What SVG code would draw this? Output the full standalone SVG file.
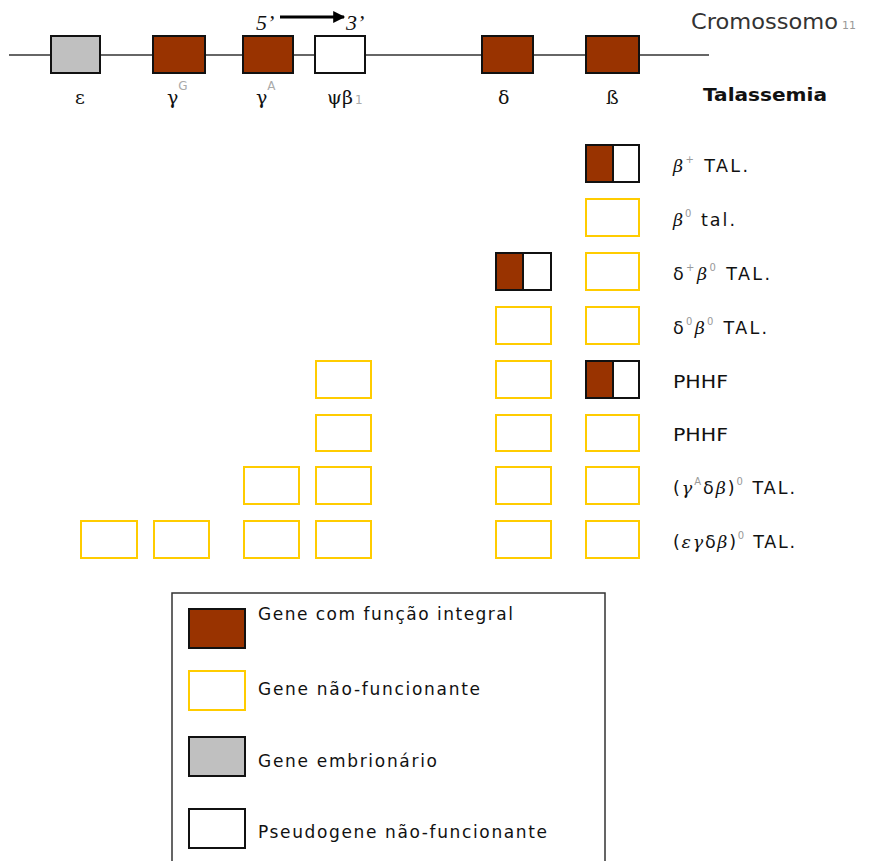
<svg xmlns="http://www.w3.org/2000/svg" width="872" height="861" viewBox="0 0 872 861">
<defs>
<style>
.chr{stroke:#333;stroke-width:1.5;fill:none}
.g{stroke:#111;stroke-width:2}
.br{fill:#993300}
.gy{fill:#c0c0c0}
.wh{fill:#fff}
.nf{fill:#fff;stroke:#ffcc00;stroke-width:2}
.lbl{font-family:"DejaVu Sans",sans-serif;font-size:17.5px;fill:#111}
.leg{font-family:"DejaVu Sans",sans-serif;font-size:17px;fill:#111}
.gr{font-family:"DejaVu Serif",serif;font-size:19px;fill:#111}
.sup{font-size:10px;fill:#999}
.tsup{font-family:"DejaVu Sans",sans-serif;font-size:12px;fill:#aaa}
.it{font-style:italic;font-family:"DejaVu Serif",serif}
</style>
<marker id="ah" viewBox="0 0 10 10" refX="9" refY="5" markerWidth="4.5" markerHeight="4" orient="auto"><path d="M0,0 L10,5 L0,10 z" fill="#000"/></marker>
</defs>

<g id="chromosome">
<line class="chr" x1="9" y1="55" x2="709" y2="55"/>
<text x="691" y="29" font-family="DejaVu Sans,sans-serif" font-size="21" fill="#333" textLength="147" lengthAdjust="spacingAndGlyphs">Cromossomo</text>
<text x="842" y="29" font-family="DejaVu Sans,sans-serif" font-size="11" fill="#999">11</text>
<text x="256" y="30" font-family="Liberation Serif,serif" font-size="22" font-style="italic" fill="#111">5’</text>
<text x="346" y="30" font-family="Liberation Serif,serif" font-size="22" font-style="italic" fill="#111">3’</text>
</g>

<g id="connectors">
<line x1="280" y1="17" x2="344" y2="17" stroke="#000" stroke-width="3" marker-end="url(#ah)"/>
</g>

<g id="gene-epsilon"><rect class="g gy" x="51" y="36" width="49" height="37"/><text class="gr" x="75" y="104">ε</text></g>
<g id="gene-gammaG"><rect class="g br" x="153" y="36" width="52" height="37"/><text class="gr" x="167" y="104">γ<tspan class="tsup" dy="-14">G</tspan></text></g>
<g id="gene-gammaA"><rect class="g br" x="243" y="36" width="50" height="37"/><text class="gr" x="256" y="104">γ<tspan class="tsup" dy="-14">A</tspan></text></g>
<g id="gene-psibeta1"><rect class="g wh" x="315" y="36" width="50" height="37"/><text class="gr" x="327" y="104">ψβ<tspan class="tsup" dx="2">1</tspan></text></g>
<g id="gene-delta"><rect class="g br" x="482" y="36" width="51" height="37"/><text class="gr" x="498" y="104">δ</text></g>
<g id="gene-beta"><rect class="g br" x="586" y="36" width="53" height="37"/><text class="gr" x="606" y="104" font-size="15">ß</text></g>
<text x="703" y="101" font-family="DejaVu Sans,sans-serif" font-size="17" font-weight="bold" fill="#111" textLength="124" lengthAdjust="spacingAndGlyphs">Talassemia</text>

<g id="row1">
<rect class="g br" x="586" y="145" width="27" height="37"/><rect class="g wh" x="613" y="145" width="26" height="37"/>
<rect x="586" y="145" width="53" height="37" fill="none" stroke="#111" stroke-width="2"/>
<text class="lbl" x="673" y="172" textLength="75" lengthAdjust="spacing"><tspan class="it">β</tspan><tspan class="sup" dy="-9">+</tspan><tspan dy="9"> TAL.</tspan></text>
</g>
<g id="row2">
<rect class="nf" x="586" y="199" width="53" height="37"/>
<text class="lbl" x="673" y="226" textLength="62" lengthAdjust="spacing"><tspan class="it">β</tspan><tspan class="sup" dy="-9">0</tspan><tspan dy="9"> tal.</tspan></text>
</g>
<g id="row3">
<rect class="g br" x="496" y="253" width="27" height="37"/><rect class="g wh" x="523" y="253" width="28" height="37"/>
<rect x="496" y="253" width="55" height="37" fill="none" stroke="#111" stroke-width="2"/>
<rect class="nf" x="586" y="253" width="53" height="37"/>
<text class="lbl" x="673" y="280" textLength="97" lengthAdjust="spacing">δ<tspan class="sup" dy="-9">+</tspan><tspan class="it" dy="9">β</tspan><tspan class="sup" dy="-9">0</tspan><tspan dy="9"> TAL.</tspan></text>
</g>
<g id="row4">
<rect class="nf" x="496" y="307" width="55" height="37"/>
<rect class="nf" x="586" y="307" width="53" height="37"/>
<text class="lbl" x="673" y="334" textLength="94" lengthAdjust="spacing">δ<tspan class="sup" dy="-9">0</tspan><tspan class="it" dy="9">β</tspan><tspan class="sup" dy="-9">0</tspan><tspan dy="9"> TAL.</tspan></text>
</g>
<g id="row5">
<rect class="nf" x="316" y="361" width="55" height="37"/>
<rect class="nf" x="496" y="361" width="55" height="37"/>
<rect class="g br" x="586" y="361" width="27" height="37"/><rect class="g wh" x="613" y="361" width="26" height="37"/>
<rect x="586" y="361" width="53" height="37" fill="none" stroke="#111" stroke-width="2"/>
<text class="lbl" x="673" y="388" textLength="55" lengthAdjust="spacingAndGlyphs">PHHF</text>
</g>
<g id="row6">
<rect class="nf" x="316" y="415" width="55" height="36"/>
<rect class="nf" x="496" y="415" width="55" height="36"/>
<rect class="nf" x="586" y="415" width="53" height="36"/>
<text class="lbl" x="673" y="441" textLength="55" lengthAdjust="spacingAndGlyphs">PHHF</text>
</g>
<g id="row7">
<rect class="nf" x="244" y="467" width="55" height="37"/>
<rect class="nf" x="316" y="467" width="55" height="37"/>
<rect class="nf" x="496" y="467" width="55" height="37"/>
<rect class="nf" x="586" y="467" width="53" height="37"/>
<text class="lbl" x="673" y="494" textLength="122" lengthAdjust="spacing">(<tspan class="it">γ</tspan><tspan class="sup" dy="-9">A</tspan><tspan dy="9">δ</tspan><tspan class="it">β</tspan>)<tspan class="sup" dy="-9">0</tspan><tspan dy="9"> TAL.</tspan></text>
</g>
<g id="row8">
<rect class="nf" x="81" y="521" width="56" height="37"/>
<rect class="nf" x="154" y="521" width="55" height="37"/>
<rect class="nf" x="244" y="521" width="55" height="37"/>
<rect class="nf" x="316" y="521" width="55" height="37"/>
<rect class="nf" x="496" y="521" width="55" height="37"/>
<rect class="nf" x="586" y="521" width="53" height="37"/>
<text class="lbl" x="673" y="548" textLength="122" lengthAdjust="spacing">(<tspan class="it">εγ</tspan>δ<tspan class="it">β</tspan>)<tspan class="sup" dy="-9">0</tspan><tspan dy="9"> TAL.</tspan></text>
</g>

<g id="legend">
<rect x="172" y="593" width="433" height="290" fill="#fff" stroke="#333" stroke-width="1.5"/>
<rect class="g br" x="189" y="609" width="56" height="39"/>
<text class="leg" x="258" y="620" textLength="255" lengthAdjust="spacing">Gene com função integral</text>
<rect class="nf" x="189" y="671" width="56" height="39"/>
<text class="leg" x="258" y="695" textLength="222" lengthAdjust="spacing">Gene não-funcionante</text>
<rect class="g gy" x="189" y="737" width="56" height="39"/>
<text class="leg" x="258" y="767" textLength="179" lengthAdjust="spacing">Gene embrionário</text>
<rect class="g wh" x="189" y="809" width="56" height="39"/>
<text class="leg" x="258" y="838" textLength="289" lengthAdjust="spacing">Pseudogene não-funcionante</text>
</g>
</svg>
